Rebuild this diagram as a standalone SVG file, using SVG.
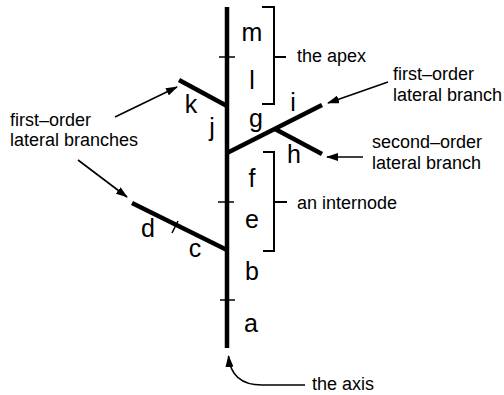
<svg xmlns="http://www.w3.org/2000/svg" width="504" height="395" viewBox="0 0 504 395">
<style>
.stem{stroke:#000;stroke-width:4.5;fill:none;stroke-linecap:butt}
.tick{stroke:#000;stroke-width:1.5;fill:none}
.br{stroke:#000;stroke-width:2;fill:none}
.arr{stroke:#000;stroke-width:1.6;fill:none;marker-end:url(#ah)}
.lbl{font-family:"Liberation Sans",Arial,sans-serif;font-size:18px;fill:#000}
.let{font-family:"Liberation Sans",Arial,sans-serif;font-size:25px;fill:#000;text-anchor:middle}
</style>
<defs>
<marker id="ah" viewBox="0 0 12 8" refX="11" refY="4" markerWidth="12" markerHeight="8" markerUnits="userSpaceOnUse" orient="auto">
<path d="M0,0 L12,4 L0,8 Z" fill="#000"/>
</marker>
</defs>
<g id="plant">
<line class="stem" x1="227" y1="7" x2="227" y2="348"/>
<line class="tick" x1="219" y1="57" x2="235" y2="57"/>
<line class="tick" x1="218" y1="202" x2="234" y2="202"/>
<line class="tick" x1="220" y1="300" x2="235" y2="300"/>
</g>
<g id="branch-k">
<line class="stem" x1="179" y1="80" x2="227" y2="106"/>
</g>
<g id="branch-gi">
<line class="stem" x1="227" y1="153" x2="322" y2="105"/>
</g>
<g id="branch-h">
<line class="stem" x1="275" y1="129" x2="322" y2="154"/>
</g>
<g id="branch-dc">
<line class="stem" x1="132" y1="203" x2="227" y2="250"/>
<line class="tick" x1="172" y1="233" x2="178" y2="221"/>
</g>
<g id="letters">
<text class="let" x="252" y="41">m</text>
<text class="let" x="252" y="89">l</text>
<text class="let" x="191" y="113">k</text>
<text class="let" x="212" y="136">j</text>
<text class="let" x="256" y="127">g</text>
<text class="let" x="293" y="111">i</text>
<text class="let" x="294" y="163">h</text>
<text class="let" x="252" y="187">f</text>
<text class="let" x="252" y="228">e</text>
<text class="let" x="252" y="280">b</text>
<text class="let" x="251" y="332">a</text>
<text class="let" x="148" y="237">d</text>
<text class="let" x="195" y="257">c</text>
</g>
<g id="apex">
<path class="br" d="M262,7 H274 V104 H262"/>
<line class="br" x1="274" y1="57" x2="286" y2="57"/>
<text class="lbl" x="297" y="62">the apex</text>
</g>
<g id="internode">
<path class="br" d="M263,152 H274 V251 H263"/>
<line class="br" x1="274" y1="202" x2="287" y2="202"/>
<text class="lbl" x="297" y="209">an internode</text>
</g>
<g id="label-left">
<text class="lbl" x="10" y="126">first–order</text>
<text class="lbl" x="10" y="146">lateral branches</text>
</g>
<g id="label-right1">
<text class="lbl" x="393" y="80">first–order</text>
<text class="lbl" x="393" y="101">lateral branch</text>
</g>
<g id="label-right2">
<text class="lbl" x="372" y="148">second–order</text>
<text class="lbl" x="372" y="169">lateral branch</text>
</g>
<g id="label-axis">
<text class="lbl" x="312" y="390">the axis</text>
</g>
<g id="connectors">
<line class="arr" x1="115" y1="117" x2="177" y2="87"/>
<line class="arr" x1="78" y1="160" x2="127" y2="197"/>
<line class="arr" x1="388" y1="82" x2="328" y2="103"/>
<line class="arr" x1="363" y1="157" x2="327" y2="157"/>
<path class="arr" d="M305,385 L262,385 Q231,385 228.5,356"/>
</g>
</svg>
